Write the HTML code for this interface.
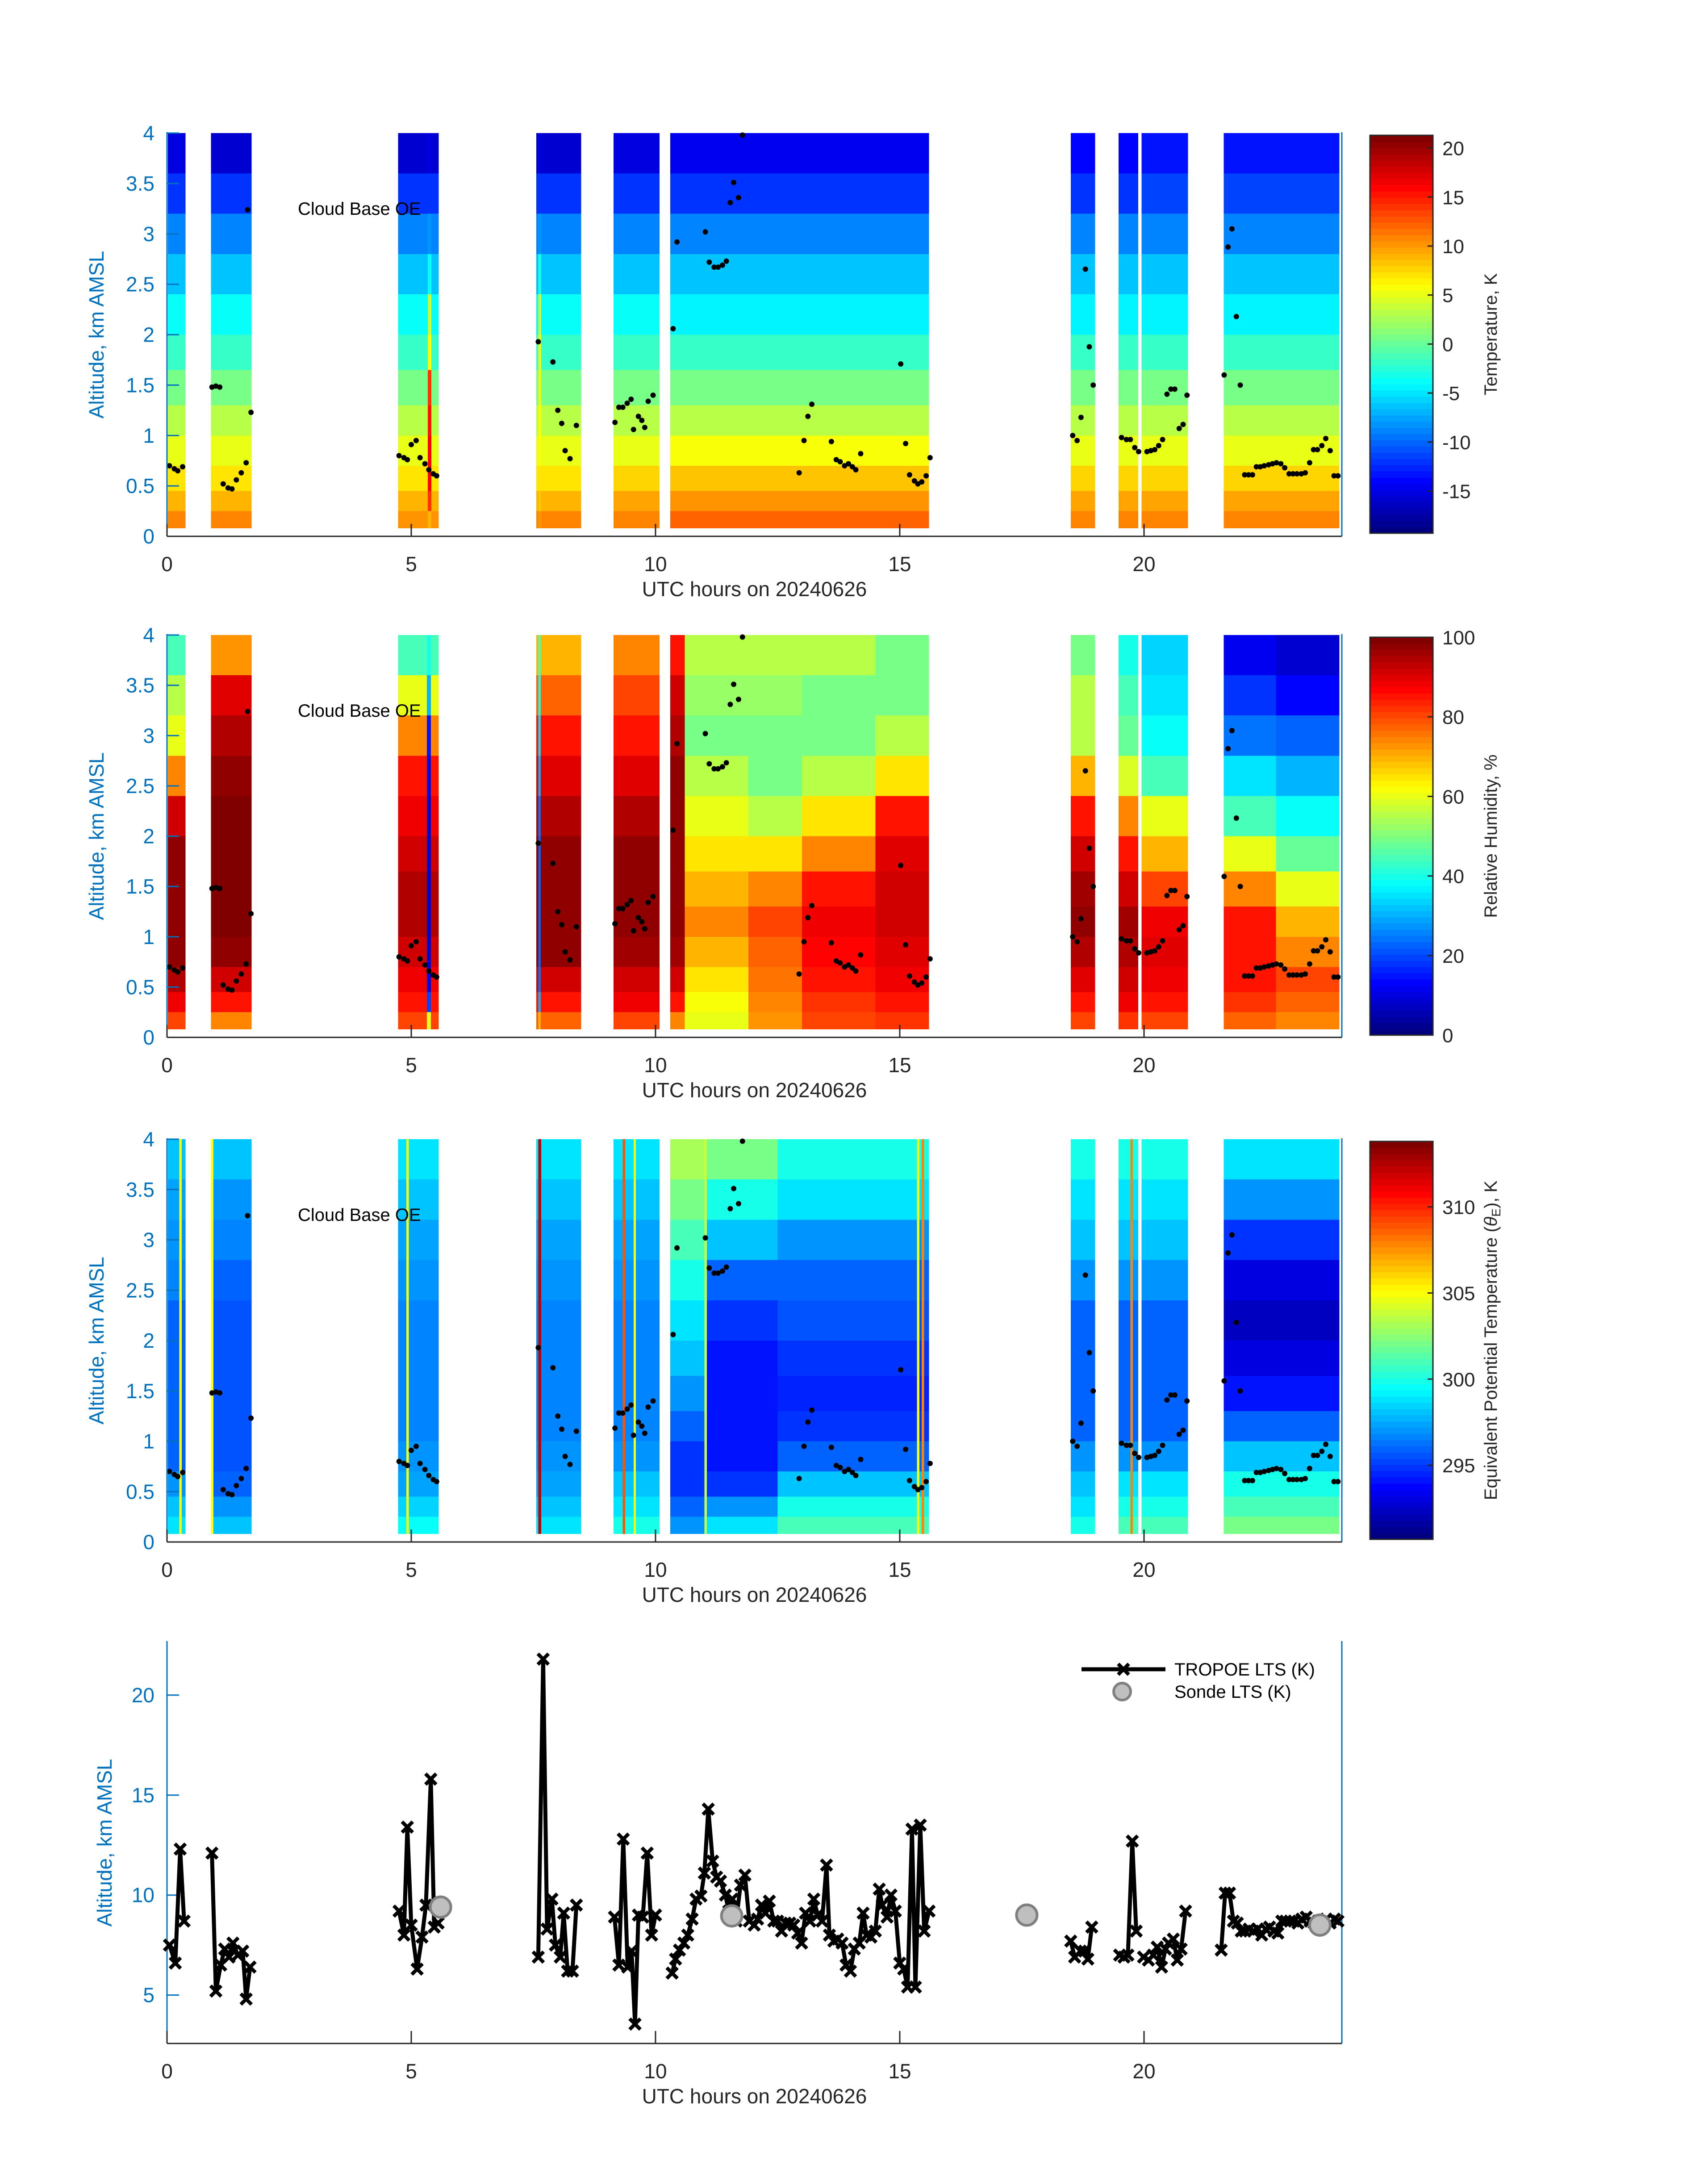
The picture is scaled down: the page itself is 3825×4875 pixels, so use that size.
<!DOCTYPE html>
<html><head><meta charset="utf-8"><title>TROPoe profiles 20240626</title>
<style>
html,body{margin:0;padding:0;background:#fff;}
svg{display:block;font-family:"Liberation Sans","DejaVu Sans",sans-serif;}
</style></head>
<body>
<svg id="fig" width="3825" height="4875" viewBox="0 0 3825 4875" xmlns="http://www.w3.org/2000/svg">
<rect x="0" y="0" width="3825" height="4875" fill="#fff"/>
</svg>
<script>
// ---------------- data ----------------
const bandEdges = [0.08,0.25,0.45,0.7,1.0,1.3,1.65,2.0,2.4,2.8,3.2,3.6,4.0];

const tempStarts = [0.02,0.9,4.73,7.56,9.14,10.3,18.5,19.48,19.95,21.63,5.34,7.6];
const tempEnds   = [0.38,1.73,5.56,8.48,10.08,15.6,19.0,19.88,20.9,24.0,5.41,7.66];
const tempProfiles = [
 [11,9,7,5,3,1,-2,-4,-6,-9,-12,-15],
 [11,9,7,5,3,1,-2,-4,-6,-9,-12,-15.5],
 [10,9,7,5,3,1,-2,-4,-6,-9,-12,-15.5],
 [11,9,7,5,3,1,-2,-4,-6,-9,-12,-15.5],
 [11,9.5,7.5,5,3,1,-2,-4,-6,-9,-12,-15],
 [12,10,8,6,3.5,1,-2,-4.5,-6.5,-9,-12,-14.5],
 [11,9.5,7.5,5,3,0.5,-2,-4.5,-6.5,-9,-12,-14],
 [11,9.5,7.5,5,3,0.5,-2,-4.5,-6.5,-9,-12,-14],
 [11,9.5,7.5,5,3,0.5,-2,-4.5,-6.5,-9,-11.5,-13.5],
 [11,9.5,7.5,5,3,0.5,-2,-4.5,-6.5,-9,-11.5,-13],
 [9,14,16,16,15,14,6,4,-4,-8,-12,-15],
 [10,8,7,6,6,5,5,4,-3,-8,-12,-15]
];

const rhStarts = [0.02,0.9,4.73,7.56,9.14,10.3,10.6,11.9,13.0,14.5,18.5,19.48,19.95,21.63,22.7,5.32,7.6];
const rhEnds   = [0.38,1.73,5.56,8.48,10.08,10.6,11.9,13.0,14.5,15.6,19.0,19.88,20.9,22.7,24.0,5.4,7.65];
const rhProfiles = [
 [80,88,95,97,98,98,97,92,75,60,55,45],
 [75,85,92,97,99,99,99,99,98,95,90,72],
 [80,85,88,92,95,95,92,88,85,75,60,45],
 [78,85,92,97,98,98,97,95,90,85,78,70],
 [80,88,92,96,98,98,97,95,90,85,80,75],
 [75,85,92,96,98,98,98,98,97,95,92,85],
 [60,62,65,70,75,70,65,60,55,50,52,55],
 [72,74,76,78,80,75,65,55,50,50,52,55],
 [80,82,85,87,88,85,75,65,55,50,50,55],
 [82,85,88,90,92,92,90,85,65,55,50,50],
 [80,85,90,95,97,96,92,85,70,55,55,50],
 [82,88,92,95,96,92,85,75,58,48,45,40],
 [80,85,88,90,88,80,70,60,45,38,35,33],
 [78,82,85,85,85,75,60,45,35,25,18,12],
 [75,78,80,75,70,60,48,38,30,22,14,8],
 [60,20,10,8,8,8,8,8,10,15,30,40],
 [70,30,25,22,22,22,22,25,30,35,40,45]
];

const thStarts = [0.02,0.9,4.73,7.56,9.14,10.3,11.0,12.5,18.5,19.48,19.95,21.63,
                  0.25,0.9,4.9,7.6,9.33,9.55,11.0,15.35,15.45,19.72];
const thEnds   = [0.38,1.73,5.56,8.48,10.08,11.0,12.5,15.6,19.0,19.88,20.9,24.0,
                  0.3,0.95,4.95,7.66,9.38,9.6,11.05,15.4,15.5,19.77];
const thProfiles = [
 [299,298,297,296,296,296,296,296,296.5,297,297.5,298],
 [298,297,296,295.5,295.5,295.5,295.5,295.5,296,296.5,297,298],
 [299.5,298.5,297.5,297,296.5,296.5,296.5,296.5,297,297.5,298,299],
 [299,298,297.5,297,296.5,296.5,296.5,296.5,297,297.5,298,299],
 [300,299,298,297,296.5,296.5,296.5,296.5,297,297.5,298,299],
 [297,296,295,295,296,297,298,299,300,301,302,303],
 [299,297,295,294,294,294,294,295,296,298,300,302],
 [301,300,298,296,295,294.5,295,295.5,296,297,299,300],
 [300,299,298,297,296,296,296,296,297,298,299,300],
 [301,300,299,297,296,296,296,296,297,298,299,300],
 [301,300,299,297,296,296,296,296,297,298,299,300],
 [302,301,300,298,296,294,293,292.5,293,295,297,299],
 [305,305,305,305,305,305,305,305,305,305,305,305],
 [305,305,305,305,305,305,305,305,305,305,305,305],
 [305,305,305,305,305,305,305,305,305,305,305,305],
 [312,312,312,312,312,312,312,312,312,312,312,312],
 [309,309,309,309,309,309,309,309,309,309,309,309],
 [305,305,305,305,305,305,305,305,305,305,305,305],
 [304,304,304,304,304,304,304,304,304,304,304,304],
 [305,305,305,305,305,305,305,305,305,305,305,305],
 [308,308,308,308,308,308,308,308,308,308,308,308],
 [308,308,308,308,308,308,308,308,308,308,308,308]
];

const cbTimes = [0.05,0.15,0.22,0.32,0.92,1.0,1.08,1.15,1.25,1.33,1.42,1.52,1.62,1.65,1.72,
 4.75,4.85,4.92,5.0,5.1,5.18,5.28,5.36,5.45,5.52,
 7.6,7.9,8.0,8.08,8.15,8.25,8.38,
 9.17,9.25,9.33,9.42,9.5,9.55,9.65,9.72,9.78,9.85,9.95,
 10.36,10.44,11.02,11.1,11.2,11.28,11.37,11.45,11.53,11.6,11.7,11.78,12.94,13.04,13.12,13.2,13.6,13.7,13.78,13.87,13.95,14.03,14.1,14.2,15.02,15.12,15.2,15.3,15.37,15.45,15.54,15.62,
 18.54,18.63,18.71,18.8,18.88,18.96,
 19.54,19.64,19.72,19.81,19.89,20.06,20.14,20.22,20.3,20.38,20.47,20.55,20.63,20.72,20.8,20.88,
 21.64,21.72,21.8,21.89,21.97,22.06,22.14,22.22,22.3,22.38,22.46,22.55,22.63,22.71,22.8,22.88,22.97,23.05,23.13,23.22,23.3,23.39,23.47,23.55,23.64,23.72,23.81,23.89,23.97];
const cbHeights = [0.70,0.67,0.65,0.69,1.48,1.49,1.48,0.52,0.48,0.47,0.56,0.63,0.73,3.24,1.23,
 0.80,0.78,0.76,0.91,0.95,0.78,0.72,0.66,0.62,0.60,
 1.93,1.73,1.25,1.12,0.85,0.77,1.10,
 1.13,1.28,1.28,1.32,1.36,1.06,1.19,1.15,1.08,1.34,1.40,
 2.06,2.92,3.02,2.72,2.67,2.67,2.69,2.73,3.31,3.51,3.36,3.98,0.63,0.95,1.19,1.31,0.94,0.76,0.74,0.70,0.72,0.69,0.66,0.82,1.71,0.92,0.61,0.55,0.52,0.54,0.60,0.78,
 1.0,0.95,1.18,2.65,1.88,1.5,
 0.98,0.96,0.96,0.88,0.84,0.84,0.85,0.86,0.90,0.96,1.41,1.46,1.46,1.07,1.11,1.40,
 1.60,2.87,3.05,2.18,1.50,0.61,0.61,0.61,0.69,0.69,0.70,0.71,0.72,0.73,0.72,0.68,0.62,0.62,0.62,0.62,0.63,0.73,0.86,0.86,0.90,0.97,0.85,0.60,0.60];

const ltsTimes = [0.05,0.17,0.27,0.35,null,
 0.92,1.0,1.1,1.18,1.27,1.35,1.45,1.55,1.62,1.7,null,
 4.75,4.85,4.92,5.0,5.12,5.22,5.3,5.4,5.47,5.55,null,
 7.6,7.7,7.78,7.88,7.95,8.05,8.12,8.2,8.3,8.38,null,
 9.16,9.25,9.34,9.43,9.51,9.58,9.65,9.74,9.83,9.92,10.0,null,
 10.34,10.41,10.49,10.58,10.66,10.75,10.83,10.93,11.0,11.08,11.17,11.25,11.33,11.43,11.5,11.57,11.65,11.74,11.83,11.92,12.02,12.09,12.17,12.25,12.33,12.42,12.5,12.58,12.66,12.75,12.83,12.91,12.99,13.07,13.16,13.24,13.32,13.41,13.5,13.56,13.65,13.73,13.82,13.9,13.99,14.07,14.17,14.25,14.32,14.41,14.5,14.58,14.64,14.74,14.82,14.91,15.0,15.08,15.16,15.25,15.32,15.42,15.5,15.6,null,
 18.5,18.58,18.7,18.78,18.85,18.93,null,
 19.5,19.59,19.67,19.76,19.84,null,
 19.99,20.09,20.19,20.27,20.36,20.44,20.5,20.6,20.68,20.76,20.85,null,
 21.58,21.66,21.75,21.83,21.91,21.99,22.07,22.15,22.24,22.33,22.41,22.49,22.57,22.66,22.74,22.82,22.9,22.99,23.07,23.15,23.23,23.32,23.4,23.48,23.56,23.65,23.73,23.81,23.9,23.97];
const ltsValues = [7.5,6.6,12.3,8.7,null,
 12.1,5.2,6.5,7.3,6.9,7.6,7.0,7.2,4.8,6.4,null,
 9.2,8.0,13.4,8.5,6.3,7.9,9.5,15.8,8.4,8.6,null,
 6.9,21.8,8.3,9.8,7.5,6.9,9.1,6.2,6.2,9.5,null,
 8.9,6.5,12.8,6.4,7.2,3.55,9.0,8.9,12.1,8.0,9.0,null,
 6.1,6.8,7.25,7.6,8.0,8.8,9.8,9.95,11.1,14.3,11.7,10.9,10.7,10.0,9.2,9.8,8.7,10.5,11.0,8.7,8.5,8.8,9.5,9.1,9.7,8.7,8.7,8.2,8.6,8.6,8.5,8.1,7.6,9.1,8.7,9.8,9.0,8.7,11.5,8.0,7.7,7.8,7.6,6.5,6.2,7.3,7.6,9.1,8.0,7.9,8.2,10.3,9.5,8.9,10.0,9.2,6.6,6.3,5.4,13.3,5.4,13.5,8.2,9.2,null,
 7.7,6.9,7.2,7.2,6.8,8.4,null,
 7.0,6.9,7.0,12.7,8.2,null,
 6.9,6.75,7.0,7.4,6.4,7.3,7.6,7.8,6.75,7.3,9.2,null,
 7.25,10.1,10.1,8.7,8.6,8.2,8.2,8.3,8.2,8.3,8.0,8.3,8.4,8.2,8.1,8.7,8.7,8.7,8.7,8.6,8.8,8.9,8.7,8.6,8.7,8.5,8.8,8.6,8.8,8.7];
const sondeTimes = [5.6,11.56,17.6,23.6];
const sondeValues = [9.4,8.96,9.0,8.5];

const xTicks = [0,5,10,15,20];
const altTicks = [0,0.5,1,1.5,2,2.5,3,3.5,4];
const altTickLabels = ["0","0.5","1","1.5","2","2.5","3","3.5","4"];
const ltsTicks = [5,10,15,20];
const tempCbTicks = [-15,-10,-5,0,5,10,15,20];
const rhCbTicks = [0,20,40,60,80,100];
const thCbTicks = [295,300,305,310];

// ---------------- drawing ----------------
const NS = "http://www.w3.org/2000/svg";
const svg = document.getElementById('fig');
function mk(tag, attrs, parent){
  const e = document.createElementNS(NS, tag);
  for (const k in attrs) e.setAttribute(k, attrs[k]);
  (parent||svg).appendChild(e);
  return e;
}
const X0 = 374, PXH = 109.4, XR = 3005;
function xS(h){ return X0 + h*PXH; }
function jet(t){
  t = Math.max(0, Math.min(1, t));
  t = Math.floor(t*63.999)/63;
  const c = v => Math.round(255*Math.max(0, Math.min(1, v)));
  return `rgb(${c(1.5-Math.abs(4*t-3))},${c(1.5-Math.abs(4*t-2))},${c(1.5-Math.abs(4*t-1))})`;
}
const BLUE = "#0072BD", DARK = "#262626";

const panels = [
 {name:'temperature', top:298, bot:1201, cbTop:303, cbBot:1194, vmin:-19.3, vmax:21.3,
  starts:tempStarts, ends:tempEnds, prof:tempProfiles, ticks:tempCbTicks, label:'Temperature, K'},
 {name:'humidity', top:1422, bot:2323, cbTop:1427, cbBot:2318, vmin:0, vmax:100,
  starts:rhStarts, ends:rhEnds, prof:rhProfiles, ticks:rhCbTicks, label:'Relative Humidity, %'},
 {name:'theta-e', top:2551, bot:3453, cbTop:2556, cbBot:3447, vmin:290.7, vmax:313.8,
  starts:thStarts, ends:thEnds, prof:thProfiles, ticks:thCbTicks, label:'theta'}
];

function xAxis(g, bot, prefix){
  const ax = mk('line',{x1:X0,y1:bot,x2:XR,y2:bot,stroke:DARK,'stroke-width':3},g);
  
  
  xTicks.forEach(v=>{
    const t = mk('line',{x1:xS(v),y1:bot,x2:xS(v),y2:bot-28,stroke:DARK,'stroke-width':3},g);
    
    
    const l = mk('text',{x:xS(v),y:bot+78,'font-size':46,fill:DARK,'text-anchor':'middle'},g);
    l.textContent = String(v);
    
    
  });
  const xl = mk('text',{x:(X0+XR)/2,y:bot+134,'font-size':46,fill:DARK,'text-anchor':'middle'},g);
  xl.textContent = 'UTC hours on 20240626';
  
  
}
function yAxisFrame(g, top, bot, prefix, labelX){
  const l = mk('line',{x1:X0,y1:top-2,x2:X0,y2:bot,stroke:BLUE,'stroke-width':3},g);
  
  
  const r = mk('line',{x1:XR,y1:top-2,x2:XR,y2:bot,stroke:BLUE,'stroke-width':3},g);
  
  
  const cy = (top+bot)/2;
  const yl = mk('text',{x:labelX,y:cy,'font-size':46,fill:BLUE,'text-anchor':'middle',transform:`rotate(-90 ${labelX} ${cy})`},g);
  yl.textContent = 'Altitude, km AMSL';
  
  
}

panels.forEach((p, pi)=>{
  const g = mk('g',{});
  
  
  const yS = v => p.bot - (v/4)*(p.bot-p.top);
  const cS = v => (v-p.vmin)/(p.vmax-p.vmin);
  const hm = mk('g',{'shape-rendering':'crispEdges'},g);
  
  
  p.starts.forEach((s, ci)=>{
    const e = p.ends[ci], prof = p.prof[ci];
    for (let b=0;b<prof.length;b++){
      const y1 = yS(bandEdges[b+1]), y0 = yS(bandEdges[b]);
      const r = mk('rect',{x:xS(s),y:y1,width:xS(e)-xS(s),height:y0-y1,fill:jet(cS(prof[b]))},hm);
      
      
    }
  });
  const cb = mk('g',{},g);
  
  
  cbTimes.forEach((t,i)=>{
    const c = mk('circle',{cx:xS(t),cy:yS(cbHeights[i]),r:6,fill:'#000'},cb);
    
    
  });
  const lab = mk('text',{x:667,y:p.top+183,'font-size':40,fill:'#000'},g);
  lab.textContent = 'Cloud Base OE';
  
  
  yAxisFrame(g, p.top, p.bot, p.name, 232);
  altTicks.forEach((v,i)=>{
    const t = mk('line',{x1:X0,y1:yS(v),x2:X0+27,y2:yS(v),stroke:BLUE,'stroke-width':3},g);
    
    
    const l = mk('text',{x:346,y:yS(v)+16,'font-size':46,fill:BLUE,'text-anchor':'end'},g);
    l.textContent = altTickLabels[i];
    
    
  });
  xAxis(g, p.bot, p.name);
  const cbg = mk('g',{},g);
  
  
  const cx0 = 3068, cx1 = 3209, H = p.cbBot-p.cbTop;
  for (let k=0;k<64;k++){
    const r = mk('rect',{x:cx0,y:p.cbBot-(k+1)*H/64,width:cx1-cx0,height:H/64+0.8,fill:jet(k/63),'shape-rendering':'crispEdges'},cbg);
    
    
  }
  const fr = mk('rect',{x:cx0,y:p.cbTop,width:cx1-cx0,height:H,fill:'none',stroke:DARK,'stroke-width':3},cbg);
  
  
  const cyS = v => p.cbBot - (v-p.vmin)/(p.vmax-p.vmin)*H;
  p.ticks.forEach(v=>{
    const t = mk('line',{x1:cx1,y1:cyS(v),x2:cx1-12,y2:cyS(v),stroke:DARK,'stroke-width':3},cbg);
    
    
    const l = mk('text',{x:3230,y:cyS(v)+16,'font-size':44,fill:DARK},cbg);
    l.textContent = String(v);
    
    
  });
  const mid = (p.cbTop+p.cbBot)/2;
  const tl = mk('text',{x:3352,y:mid,'font-size':40,fill:DARK,'text-anchor':'middle',transform:`rotate(-90 3352 ${mid})`},cbg);
  if (p.label==='theta'){
    tl.textContent = 'Equivalent Potential Temperature (';
    const ts = mk('tspan',{'font-style':'italic'},tl); ts.textContent='θ';
    const sub = mk('tspan',{'font-size':28,dy:8},tl); sub.textContent='E';
    const rest = mk('tspan',{dy:-8},tl); rest.textContent='), K';
  } else tl.textContent = p.label;
  
  
});

(function(){
  const top = 3675, bot = 4576, vmin = 2.58, vmax = 22.7;
  const g = mk('g',{});
  
  
  const yS = v => bot - (v-vmin)/(vmax-vmin)*(bot-top);
  yAxisFrame(g, top+2, bot, 'lts', 250);
  ltsTicks.forEach(v=>{
    const t = mk('line',{x1:X0,y1:yS(v),x2:X0+27,y2:yS(v),stroke:BLUE,'stroke-width':3},g);
    
    
    const l = mk('text',{x:346,y:yS(v)+16,'font-size':46,fill:BLUE,'text-anchor':'end'},g);
    l.textContent = String(v);
    
    
  });
  xAxis(g, bot, 'lts');
  let d = '', pen = false;
  ltsTimes.forEach((t,i)=>{
    if (t===null || ltsValues[i]===null){ pen=false; return; }
    d += (pen?'L':'M') + xS(t).toFixed(1) + ' ' + yS(ltsValues[i]).toFixed(1) + ' ';
    pen = true;
  });
  const line = mk('path',{d:d,fill:'none',stroke:'#000','stroke-width':9,'stroke-linejoin':'round'},g);
  
  
  const mg = mk('g',{},g);
  
  
  const s = 12;
  ltsTimes.forEach((t,i)=>{
    if (t===null || ltsValues[i]===null) return;
    const x = xS(t), y = yS(ltsValues[i]);
    const m = mk('path',{d:`M${x-s} ${y-s}L${x+s} ${y+s}M${x-s} ${y+s}L${x+s} ${y-s}`,stroke:'#000','stroke-width':8},mg);
    
    
  });
  sondeTimes.forEach((t,i)=>{
    const c = mk('circle',{cx:xS(t),cy:yS(sondeValues[i]),r:23,fill:'#bfbfbf',stroke:'#808080','stroke-width':6},g);
    
    
  });
  const lg = mk('g',{},g);
  
  
  const ll = mk('line',{x1:2422,y1:3738,x2:2610,y2:3738,stroke:'#000','stroke-width':9},lg);
  
  
  const lm = mk('path',{d:`M${2516-s} ${3738-s}L${2516+s} ${3738+s}M${2516-s} ${3738+s}L${2516+s} ${3738-s}`,stroke:'#000','stroke-width':8},lg);
  
  
  const lt = mk('text',{x:2630,y:3752,'font-size':40,fill:'#000'},lg);
  lt.textContent = 'TROPOE LTS (K)';
  
  
  const lc = mk('circle',{cx:2513,cy:3788,r:19,fill:'#bfbfbf',stroke:'#808080','stroke-width':6},lg);
  
  
  const ls = mk('text',{x:2630,y:3802,'font-size':40,fill:'#000'},lg);
  ls.textContent = 'Sonde LTS (K)';
  
  
})();
</script>
</body></html>
